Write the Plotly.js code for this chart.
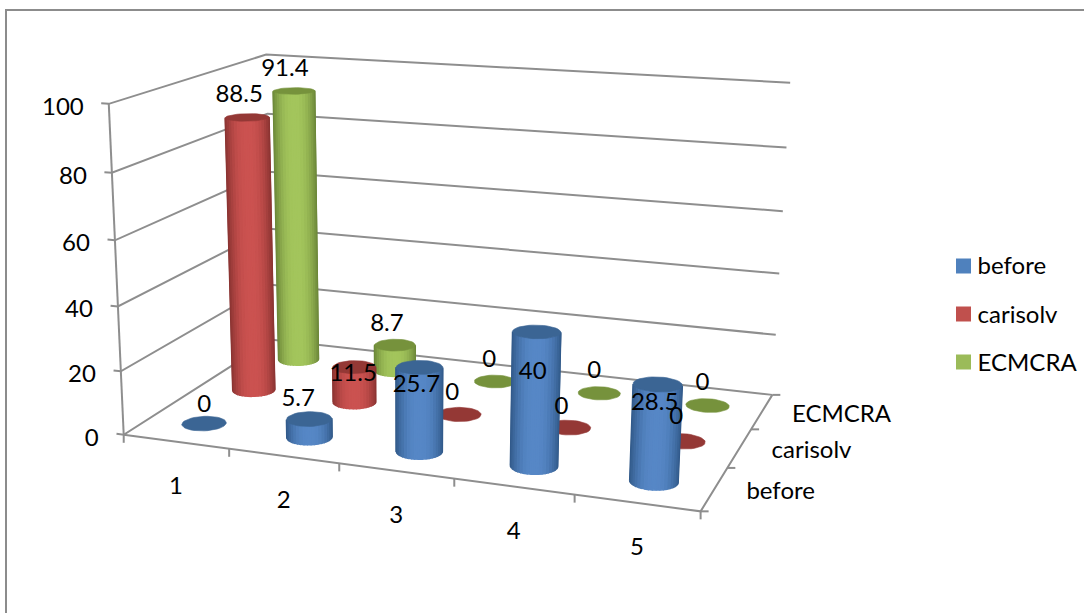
<!DOCTYPE html>
<html><head><meta charset="utf-8">
<script src="https://cdn.plot.ly/plotly-3.0.1.min.js"></script>
<style>html,body{margin:0;padding:0;background:#fff}#c{width:1084px;height:613px}</style>
</head><body><div id="c"></div>
<script>
// ---- chart data ----
const categories = ["1","2","3","4","5"];
const seriesNames = ["before","carisolv","ECMCRA"];
const before   = [0, 5.7, 25.7, 40, 28.5];
const carisolv = [88.5, 11.5, 0, 0, 0];
const ecmcra   = [91.4, 8.7, 0, 0, 0];
const valueTicks = [0,20,40,60,80,100];

// ---- style ----
const FONT = "Lato, Carlito, sans-serif";
const FS = 24;
const GRID = "#8e8e8e";
const sideCenter = [[86,135,198],[203,82,80],[163,197,92]];
const sideEdge   = [[48,88,135],[135,50,48],[105,132,55]];
const capColor   = ["#3b6594","#943835","#76923c"];
const legendColor= ["#4f81bd","#c0504d","#9bbb59"];
const RADIUS = 0.192;
const STRIPS = 40;
const CENTER_SHIFT = 0.012;
const KEY_X = 963.5, KEY_Y = [266,314,362];

// ---- projection of the (category, series, value) box on to the page ----
const calib = [
 [[0,0,0],[125,435]],[[5,0,0],[700,512]],[[5,3,0],[773,394]],[[0,3,0],[271,340]],
 [[0,0,100],[108,103]],[[0,3,100],[267,55]],[[5,3,100],[790,83]]
];
function solve(A,b){const n=b.length;A=A.map((r,i)=>[...r,b[i]]);
 for(let i=0;i<n;i++){let p=i;for(let k=i+1;k<n;k++)if(Math.abs(A[k][i])>Math.abs(A[p][i]))p=k;
  [A[i],A[p]]=[A[p],A[i]];
  for(let k=0;k<n;k++)if(k!==i){const f=A[k][i]/A[i][i];for(let j=i;j<=n;j++)A[k][j]-=f*A[i][j];}}
 return A.map((r,i)=>r[n]/r[i]);}
const rows=[],rhs=[];
calib.forEach(([[x,y,z],[u,v]])=>{const X=x/5,Y=y/3,Z=z/100,U=u/1000,V=v/1000;
 rows.push([X,Y,Z,1,0,0,0,0,-U*X,-U*Y,-U*Z]);rhs.push(U);
 rows.push([0,0,0,0,X,Y,Z,1,-V*X,-V*Y,-V*Z]);rhs.push(V);});
const ATA=Array.from({length:11},(_,i)=>Array.from({length:11},(_,j)=>rows.reduce((s,r)=>s+r[i]*r[j],0)+(i===j?1e-10:0)));
const ATb=Array.from({length:11},(_,i)=>rows.reduce((s,r,k)=>s+r[i]*rhs[k],0));
const P=solve(ATA,ATb);
function proj(x,y,z){const X=x/5,Y=y/3,Z=z/100;const w=P[8]*X+P[9]*Y+P[10]*Z+1;
 return [1000*(P[0]*X+P[1]*Y+P[2]*Z+P[3])/w,1000*(P[4]*X+P[5]*Y+P[6]*Z+P[7])/w];}

const traces=[];
function line(pts,color,width){traces.push({type:"scatter",mode:"lines",x:pts.map(p=>p[0]),y:pts.map(p=>p[1]),
 line:{color:color||GRID,width:width||2},hoverinfo:"skip",showlegend:false});}

// chart frame
line([[6,613],[6,10],[1084,10]],"#8c8c8c",2);

// walls and floor
valueTicks.forEach(v=>{
 line([proj(-0.07,0,v),proj(0,0,v),proj(0,3,v),proj(5,3,v)]);
});
line([proj(0,0,0),proj(0,0,100)]);
line([proj(0,0,0),proj(5,0,0),proj(5,3,0)]);
for(let c=0;c<=5;c++){const p=proj(c,0,0);line([p,[p[0],p[1]+8]]);}
for(let s=0;s<=3;s++){const p=proj(5,s,0);line([p,[p[0]+8,p[1]]]);}

function mix(a,b,t){return "rgb("+a.map((v,i)=>Math.round(v+(b[i]-v)*t)).join(",")+")";}
function poly(pts,color,lw){traces.push({type:"scatter",mode:"lines",fill:"toself",fillcolor:color,
 x:[...pts.map(p=>p[0]),pts[0][0]],y:[...pts.map(p=>p[1]),pts[0][1]],
 line:{color:color,width:lw===undefined?0.6:lw},hoverinfo:"skip",showlegend:false});}
function area(q){let a=0;q.forEach((p,i)=>{const n=q[(i+1)%q.length];a+=p[0]*n[1]-n[0]*p[1];});return a;}

function cylinder(cx,cy,val,s){
 const ring=z=>Array.from({length:STRIPS+1},(_,i)=>{const t=2*Math.PI*i/STRIPS;return proj(cx+RADIUS*Math.cos(t),cy+RADIUS*Math.sin(t),z);});
 if(val>0){
  const b=ring(0),t=ring(val);
  const us=b.map(p=>p[0]);const lo=Math.min(...us),hi=Math.max(...us);const mid=(lo+hi)/2,hw=(hi-lo)/2;
  const frontIdx=Math.round(STRIPS*0.75);
  const ref=area([b[frontIdx],b[frontIdx+1],t[frontIdx+1],t[frontIdx]]);
  const front=[];
  for(let i=0;i<STRIPS;i++){
   if(area([b[i],b[i+1],t[i+1],t[i]])*ref>0)front.push(i);
  }
  // strips overlap by their outlines so that no seam shows; outermost strips first
  front.map(i=>({i,pos:Math.min(1,Math.abs((b[i][0]+b[i+1][0])/2-mid)/hw)}))
   .sort((p,q)=>q.pos-p.pos)
   .forEach(({i,pos})=>poly([b[i],b[i+1],t[i+1],t[i]],mix(sideCenter[s],sideEdge[s],Math.pow(pos,2.4)),1.6));
 }
 poly(ring(val),capColor[s]);
}
const seriesValues=[before,carisolv,ecmcra];
for(let s=2;s>=0;s--)for(let c=0;c<5;c++)cylinder(c+0.5+CENTER_SHIFT,s+0.5,seriesValues[s][c],s);

// text layers
function textTrace(pts,texts,pos){traces.push({type:"scatter",mode:"text",x:pts.map(p=>p[0]),y:pts.map(p=>p[1]),text:texts,
 textposition:pos,textfont:{family:FONT,size:FS,color:"#000"},hoverinfo:"skip",showlegend:false,cliponaxis:false});}
// value-axis labels
textTrace(valueTicks.map(v=>{const p=proj(0,0,v);return [p[0]-25,p[1]+5];}),valueTicks.map(String),"middle left");
// category labels
textTrace(categories.map((c,i)=>{const p=proj(i+0.5,0,0);return [p[0],p[1]+46];}),categories,"middle center");
// series labels
textTrace(seriesNames.map((n,i)=>{const p=proj(5,i+0.5,0);return [p[0]+(i===2?30:32),p[1]+4];}),seriesNames,"middle right");
// data labels, each shifted from the top of its cylinder
const labelShift=[
 [[0,-18],[-11,-19],[-3,19],[-4,41],[-3,20]],
 [[-8,-21],[-1,8],[-7,-20],[-7,-20],[-6,-23]],
 [[-9,-21],[-8,-20],[-6,-20],[-5,-21],[-5,-21]]
];
const lp=[],lt=[];
seriesValues.forEach((vals,s)=>vals.forEach((v,c)=>{const p=proj(c+0.5+CENTER_SHIFT,s+0.5,v);
 lp.push([p[0]+labelShift[s][c][0],p[1]+labelShift[s][c][1]]);lt.push(String(v));}));
textTrace(lp,lt,"middle center");

// legend: names from the legend, keys drawn beside them because the legend's own gap is too wide
seriesNames.forEach((n,s)=>traces.push({type:"scatter",mode:"markers",name:n,legendgroup:n,x:[null],y:[null],
 marker:{symbol:"square",size:15,color:"rgba(0,0,0,0)"},hoverinfo:"skip",showlegend:true}));
traces.push({type:"scatter",mode:"markers",x:seriesNames.map(()=>KEY_X),y:KEY_Y,
 marker:{symbol:"square",size:15,color:legendColor},hoverinfo:"skip",showlegend:false});

const layout={width:1084,height:613,margin:{l:0,r:0,t:0,b:0},paper_bgcolor:"#fff",plot_bgcolor:"#fff",
 xaxis:{range:[0,1084],visible:false,fixedrange:true},
 yaxis:{range:[613,0],visible:false,fixedrange:true},
 showlegend:true,
 legend:{x:0.8649,xanchor:"left",y:1-243/613,yanchor:"top",font:{family:FONT,size:FS,color:"#000"},
  tracegroupgap:14,bgcolor:"rgba(0,0,0,0)",itemwidth:30,traceorder:"grouped"},
 font:{family:FONT,size:FS,color:"#000"}};
Plotly.newPlot("c",traces,layout,{displayModeBar:false,staticPlot:true});
</script></body></html>
